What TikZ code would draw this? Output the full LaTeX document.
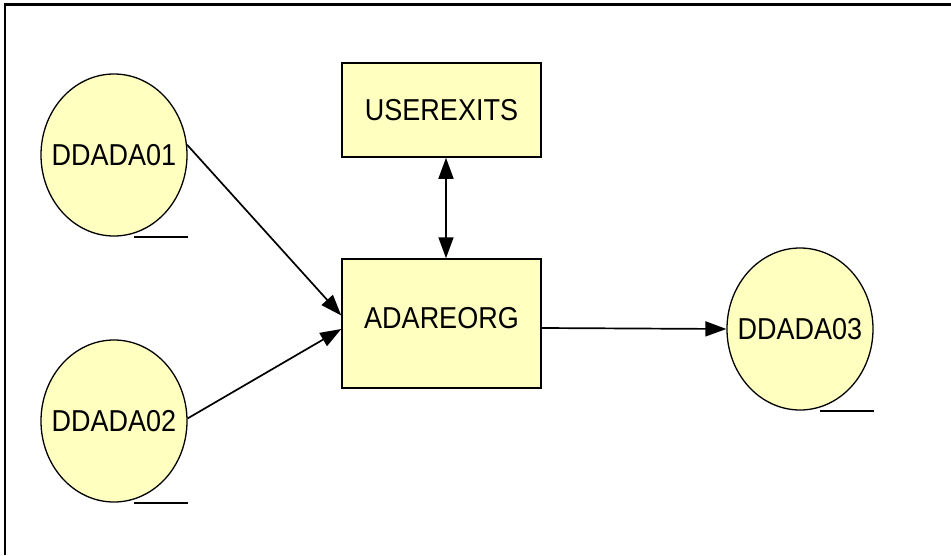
\documentclass[tikz,border=0pt]{standalone}
\usepackage{fontspec}
\setmainfont{Liberation Sans}
\usetikzlibrary{shapes.geometric,arrows.meta}
\definecolor{nodefill}{HTML}{FFFFC0}
\newcommand{\lbl}[1]{\makebox[0pt]{\scalebox{1}[1.12]{#1}}}
\tikzset{
  x=1pt,y=-1pt,
  store/.style={ellipse,draw=black,line width=1.3pt,fill=nodefill,inner sep=0pt,
    minimum width=146pt,minimum height=162pt,font=\fontsize{27}{30}\selectfont},
  proc/.style={rectangle,draw=black,line width=1.5pt,fill=nodefill,inner sep=0pt,
    minimum width=199pt,font=\fontsize{27}{30}\selectfont},
  flow/.style={line width=1.7pt,-{Triangle[length=21pt,width=15pt]}},
  uline/.style={line width=1.8pt},
  frameline/.style={line width=1.7pt}
}
\begin{document}
\begin{tikzpicture}
\useasboundingbox (0,0) rectangle (951,555);
\draw[line width=3pt] (4,4) -- (951,4);
\draw[frameline] (5,4) -- (5,555);

\node[store] (d1) at (114,155) {\lbl{DDADA01}};
\node[store] (d2) at (114,421) {\lbl{DDADA02}};
\node[store] (d3) at (800,329) {\lbl{DDADA03}};
\node[proc,minimum height=94pt] (u) at (441.5,110) {\scalebox{1}[1.12]{USEREXITS}};
\node[proc,minimum height=129pt,text depth=12pt] (a) at (441.5,323.5) {\scalebox{1}[1.12]{ADAREORG}};

\draw[flow] (d1.8) -- ([yshift=8pt]a.west);
\draw[flow] (d2.2) -- ([yshift=-5.5pt]a.west);
\draw[flow] ([yshift=-4.5pt]a.east) -- (d3.west);
\draw[line width=1.7pt,{Triangle[length=21pt,width=15pt]}-{Triangle[length=21pt,width=15pt]}]
  ([xshift=4.5pt]u.south) -- ([xshift=4.5pt]a.north);

\draw[uline] ([xshift=20pt]d1.south) -- ++(54,0);
\draw[uline] ([xshift=20pt]d2.south) -- ++(54,0);
\draw[uline] ([xshift=20pt]d3.south) -- ++(54,0);
\end{tikzpicture}
\end{document}
